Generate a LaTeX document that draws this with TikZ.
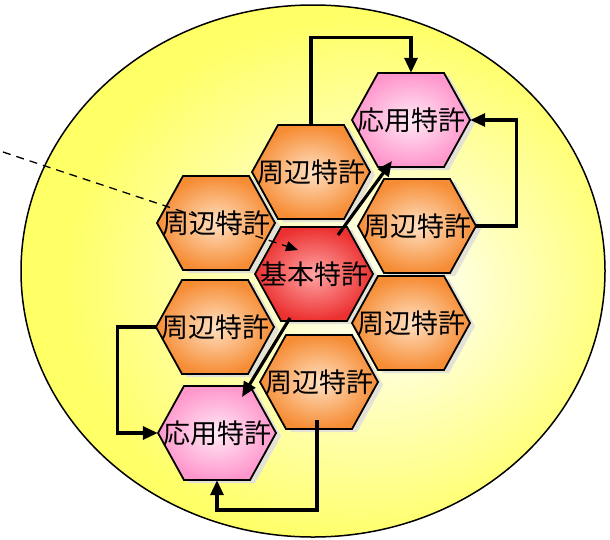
\documentclass[tikz,border=0pt]{standalone}
\usepackage{fontspec}
\newfontfamily\jp{Noto Sans CJK JP}
\usetikzlibrary{arrows.meta,calc}
\definecolor{bgin}{RGB}{255,255,228}
\definecolor{bgout}{RGB}{255,255,102}
\definecolor{orin}{RGB}{255,224,194}
\definecolor{orout}{RGB}{246,140,52}
\definecolor{pkin}{RGB}{255,234,245}
\definecolor{pkout}{RGB}{255,150,204}
\definecolor{rdin}{RGB}{255,165,165}
\definecolor{rdout}{RGB}{236,48,48}
\definecolor{shcol}{RGB}{228,226,214}
\pgfdeclareradialshading{bgshade}{\pgfpoint{7bp}{-2bp}}{color(0bp)=(bgin); color(5bp)=(bgin); color(25bp)=(bgout); color(50bp)=(bgout)}
\tikzset{
  orangecell/.style={inner color=orin, outer color=orout},
  pinkcell/.style={inner color=pkin, outer color=pkout},
  redcell/.style={inner color=rdin, outer color=rdout},
  hexlabel/.style={inner sep=0pt, minimum width=118pt, minimum height=94pt, font=\jp\fontsize{27}{30}\selectfont},
  flow/.style={line width=3.2pt, line join=miter, -{Triangle[length=15pt,width=13pt]}},
  dashflow/.style={line width=1.3pt, dash pattern=on 8pt off 6pt, -{Triangle[length=12pt,width=10pt]}},
}
\newcommand\hexpath{(-59,0) -- (-33,-47) -- (33,-47) -- (59,0) -- (33,47) -- (-33,47) -- cycle}
\newcommand\hexshadow[2]{\fill[shcol, shift={(#1+5,#2+3)}] \hexpath;}
\newcommand\hexcell[5]{%
  \begin{scope}[shift={(#2,#3)}]
    \shadedraw[#4, draw=black, line width=1.8pt, line join=miter] \hexpath;
    \node[hexlabel] (#1) at (0,0) {#5};
  \end{scope}}
\begin{document}
\begin{tikzpicture}[x=1pt,y=-1pt]
\useasboundingbox (0,0) rectangle (610,539);
\shadedraw[shading=bgshade, draw=black, line width=1.5pt] (313,271) ellipse [x radius=292pt, y radius=266pt];
% shadows
\hexshadow{411}{120}
\hexshadow{311}{172}
\hexshadow{216}{223}
\hexshadow{417}{226}
\hexshadow{314}{274}
\hexshadow{215}{327}
\hexshadow{411}{323}
\hexshadow{319}{382}
\hexshadow{217}{433}
% cells
\hexcell{A1}{411}{120}{pinkcell}{応用特許}
\hexcell{P1}{311}{172}{orangecell}{周辺特許}
\hexcell{P2}{216}{223}{orangecell}{周辺特許}
\hexcell{P3}{417}{226}{orangecell}{周辺特許}
\hexcell{B}{314}{274}{redcell}{基本特許}
\hexcell{P4}{215}{327}{orangecell}{周辺特許}
\hexcell{P5}{411}{323}{orangecell}{周辺特許}
\hexcell{P6}{319}{382}{orangecell}{周辺特許}
\hexcell{A2}{217}{433}{pinkcell}{応用特許}
% connectors
\draw[flow] (P1.north) -- ++(0,-87) -| (A1.north);
\draw[flow] (P3.east) -- ++(40,0) |- (A1.east);
\draw[flow] ($(B.center)+(24,-39)$) -- ($(A1.center)+(-19,41)$);
\draw[flow] ($(B.center)+(-24,44)$) -- ($(A2.center)+(25,-36)$);
\draw[flow] (P4.west) -- ++(-38,0) |- (A2.west);
\draw[flow] ($(P6.center)+(-2,38)$) -- ++(0,90) -| (A2.south);
\coordinate (ds) at (3,152);
\draw[dashflow] (ds) -- ($(B.center)+(-16,-24)$);
\end{tikzpicture}
\end{document}
